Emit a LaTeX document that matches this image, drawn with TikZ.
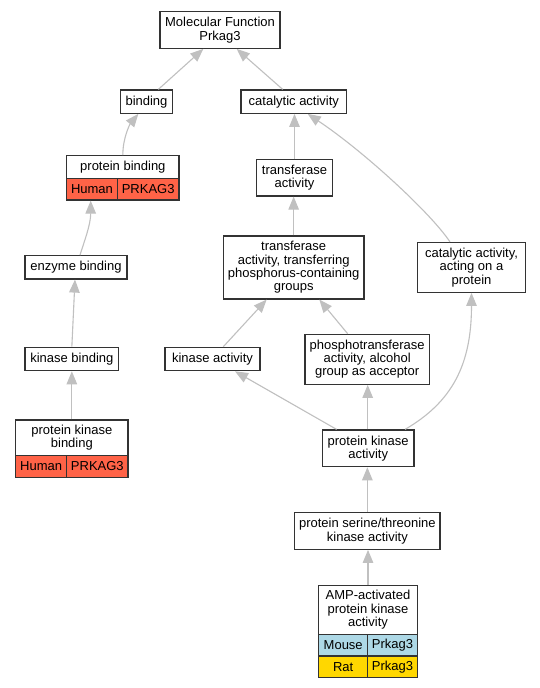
\documentclass[tikz,border=0pt]{standalone}
\usepackage{fontspec}
\setmainfont{Liberation Sans}
\usetikzlibrary{arrows.meta}
\definecolor{edgegray}{HTML}{C0C0C0}
\definecolor{tomatoc}{HTML}{FF6347}
\definecolor{lblue}{HTML}{ADD8E6}
\definecolor{goldc}{HTML}{FFD700}
\definecolor{bordc}{HTML}{333333}
\begin{document}
\begin{tikzpicture}[x=1pt,y=-1pt,
  gobox/.style={draw=bordc, line width=1.2pt, fill=white, inner sep=0pt, align=center,
    font=\fontsize{13}{13.3}\selectfont},
  tomatocell/.style={gobox, fill=tomatoc},
  mousecell/.style={gobox, fill=lblue},
  ratcell/.style={gobox, fill=goldc},
  edge/.style={draw=edgegray, line width=1.1pt, -{Triangle[length=13pt,width=10.5pt]}}]
\useasboundingbox (0,0) rectangle (540,688);
\fill[white] (0,0) rectangle (540,688);

% nodes
\node[gobox, minimum width=120pt, minimum height=36.6pt] (mf) at (220,30) {Molecular Function\\Prkag3};
\node[gobox, minimum width=51.6pt, minimum height=23.3pt] (bind) at (146.5,101.65) {binding};
\node[gobox, minimum width=105.7pt, minimum height=23.3pt] (cat) at (293.85,101.65) {catalytic activity};
\node[gobox, minimum width=112.3pt, minimum height=22.6pt] (pbh) at (122.85,167) {protein binding};
\node[tomatocell, minimum width=50.6pt, minimum height=21.7pt] (pbs) at (92,189.15) {Human};
\node[tomatocell, minimum width=61.7pt, minimum height=21.7pt] (pbg) at (148.15,189.15) {PRKAG3};
\node[gobox, minimum width=75.6pt, minimum height=36.3pt] (tr) at (294.5,177.85) {transferase\\activity};
\node[gobox, minimum width=140.7pt, minimum height=63pt] (trp) at (293.65,267.5) {transferase\\activity, transferring\\phosphorus-containing\\groups};
\node[gobox, minimum width=108.4pt, minimum height=49.8pt] (cap) at (471.5,267.4) {catalytic activity,\\acting on a\\protein};
\node[gobox, minimum width=102pt, minimum height=23.3pt] (eb) at (76,267.35) {enzyme binding};
\node[gobox, minimum width=93.7pt, minimum height=23.4pt] (kb) at (71.85,359) {kinase binding};
\node[gobox, minimum width=95pt, minimum height=23.4pt] (ka) at (212.5,359) {kinase activity};
\node[gobox, minimum width=124.3pt, minimum height=50pt] (ph) at (367.15,359.3) {phosphotransferase\\activity, alcohol\\group as acceptor};
\node[gobox, minimum width=112.3pt, minimum height=35.7pt] (pkbh) at (71.85,437.85) {protein kinase\\binding};
\node[tomatocell, minimum width=51pt, minimum height=21.6pt] (pkbs) at (41.2,466.5) {Human};
\node[tomatocell, minimum width=61.3pt, minimum height=21.6pt] (pkbg) at (97.35,466.5) {PRKAG3};
\node[gobox, minimum width=91.7pt, minimum height=36.7pt] (pka) at (368.15,448.35) {protein kinase\\activity};
\node[gobox, minimum width=145.3pt, minimum height=36.6pt] (pst) at (367.35,531) {protein serine/threonine\\kinase activity};
\node[gobox, minimum width=98.6pt, minimum height=49pt] (amph) at (368,609.8) {AMP-activated\\protein kinase\\activity};
\node[mousecell, minimum width=49pt, minimum height=21.7pt] (amms) at (343.2,645.15) {Mouse};
\node[mousecell, minimum width=49.6pt, minimum height=21.7pt] (ammg) at (392.5,645.15) {Prkag3};
\node[ratcell, minimum width=49pt, minimum height=21.3pt] (amrs) at (343.2,666.65) {Rat};
\node[ratcell, minimum width=49.6pt, minimum height=21.3pt] (amrg) at (392.5,666.65) {Prkag3};

% edges
\draw[edge] ([xshift=11.8pt]bind.north) -- ([xshift=-16.7pt]mf.south);
\draw[edge] ([xshift=-11.15pt]cat.north) -- ([xshift=16.7pt]mf.south);
\draw[edge] (pbh.north) .. controls (122.7,138) and (130,124) .. ([xshift=-8.2pt]bind.south);
\draw[edge] ([xshift=4pt]eb.north) .. controls (84,242) and (90.7,225) .. ([xshift=-1.3pt]pbs.south);
\draw[edge] (kb.north) -- ([xshift=-1pt]eb.south);
\draw[edge] (pkbh.north) -- (kb.south);
\draw[edge] (tr.north) -- (tr.north |- cat.south);
\draw[edge] (trp.north) -- (trp.north |- tr.south);
\draw[edge] ([xshift=-21.5pt]cap.north) .. controls (430,212) and (362,150) .. ([xshift=13.85pt]cat.south);
\draw[edge] ([xshift=10.8pt]ka.north) -- ([xshift=-27pt]trp.south);
\draw[edge] ([xshift=-19.5pt]ph.north) -- ([xshift=25.7pt]trp.south);
\draw[edge] ([xshift=-31.5pt]pka.north) -- ([xshift=22.5pt]ka.south);
\draw[edge] ([xshift=-0.45pt]pka.north) -- ([xshift=0.55pt]ph.south);
\draw[edge] ([xshift=36.9pt]pka.north) .. controls (452,402) and (471.5,365) .. (cap.south);
\draw[edge] (pst.north) -- (pst.north |- pka.south);
\draw[edge] (amph.north) -- (amph.north |- pst.south);
\end{tikzpicture}
\end{document}
